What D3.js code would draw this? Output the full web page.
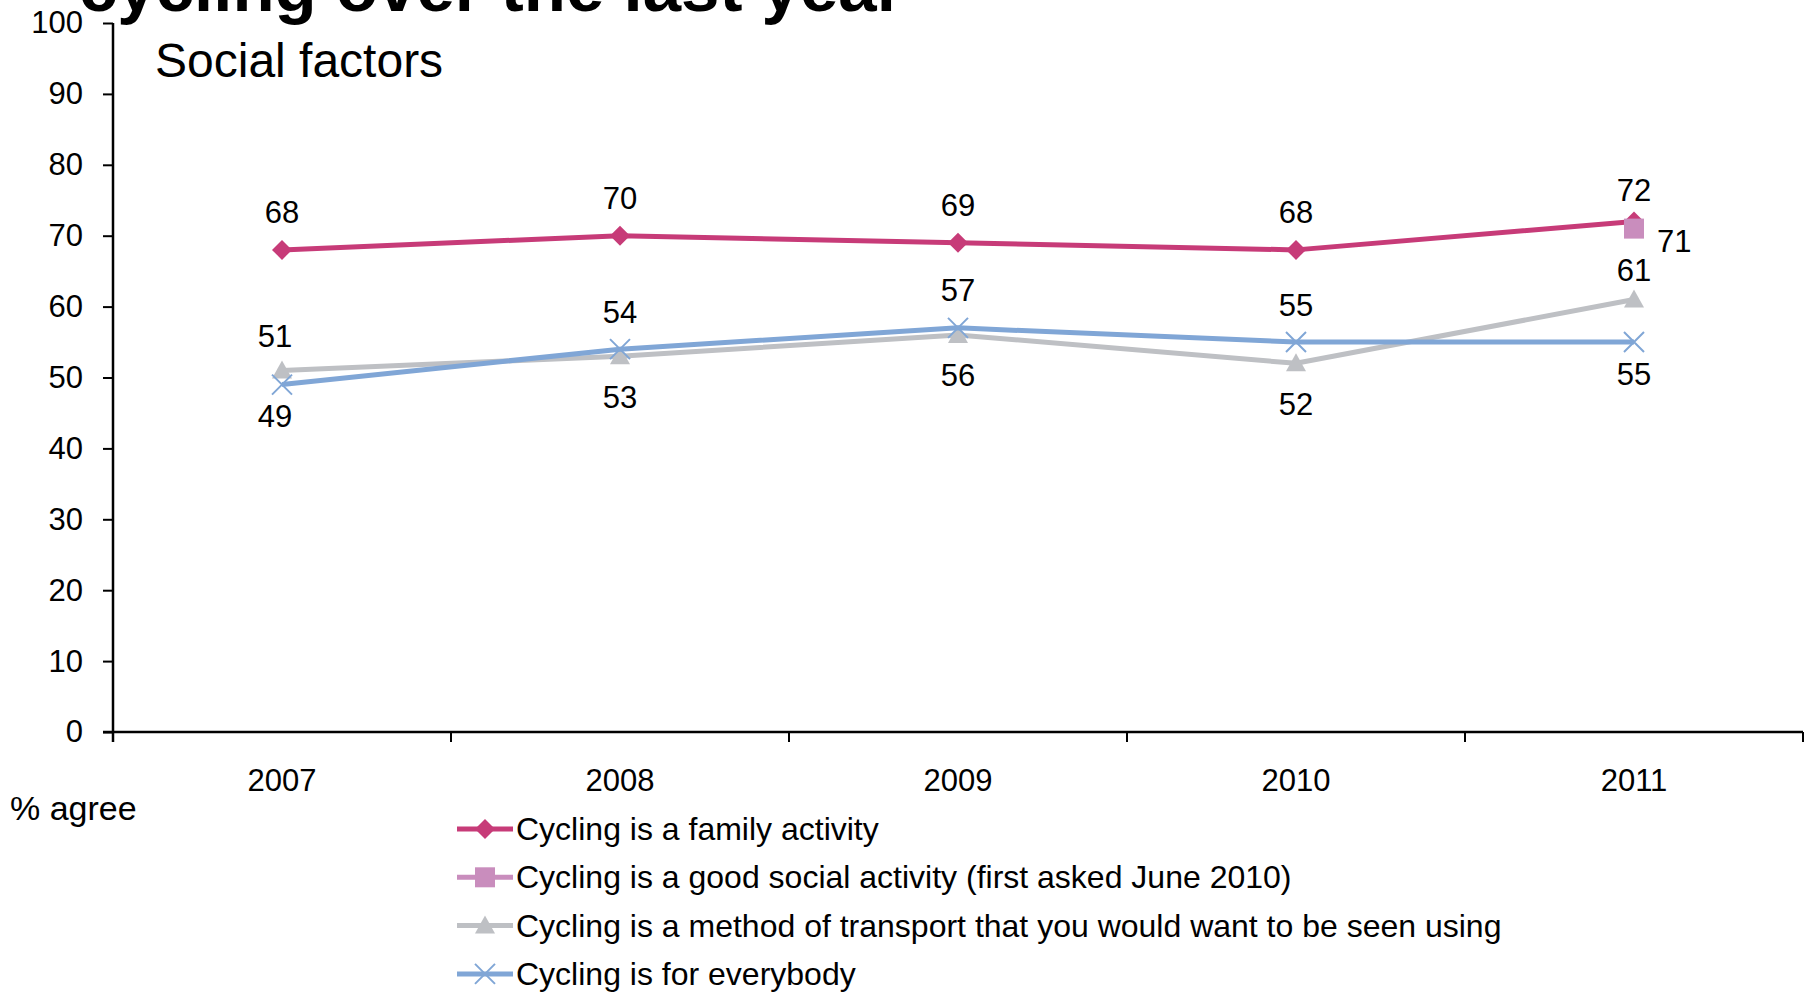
<!DOCTYPE html>
<html>
<head>
<meta charset="utf-8">
<script src="https://cdn.jsdelivr.net/npm/d3@7"></script>
<style>
  html, body { margin: 0; padding: 0; background: #ffffff; overflow: hidden; }
  svg { display: block; font-family: "Liberation Sans", Arial, sans-serif; }
</style>
</head>
<body>
<svg id="chart" width="1808" height="992"></svg>
<script>
// ---- data ----
const years = ["2007", "2008", "2009", "2010", "2011"];
const familyValues = [68, 70, 69, 68, 72];
const socialValues = [null, null, null, null, 71];
const transportValues = [51, 53, 56, 52, 61];
const everybodyValues = [49, 54, 57, 55, 55];
const yTickValues = [0, 10, 20, 30, 40, 50, 60, 70, 80, 90, 100];
const seriesNames = [
  "Cycling is a family activity",
  "Cycling is a good social activity (first asked June 2010)",
  "Cycling is a method of transport that you would want to be seen using",
  "Cycling is for everybody"
];
const titleText = "cycling over the last year";
const subtitleText = "Social factors";
const axisTitleText = "% agree";

// ---- styling ----
const colors = ["#c73b78", "#c98dbd", "#bec0c4", "#80a6d6"];
const shapes = ["diamond", "square", "triangle", "cross"];
// small manual label nudges (styling only): [seriesIndex, yearIndex, dx, dy]
const labelNudges = [[0, 4, 0, 6], [2, 4, 0, 8], [2, 0, -7, 3], [3, 0, -7, 0]];

const svg = d3.select("#chart");
const plotLeft = 113, plotRight = 1803, plotTop = 23, plotBottom = 732;

const x = d3.scaleBand().domain(years).range([plotLeft, plotRight]);
const y = d3.scaleLinear().domain([0, 100]).range([plotBottom, plotTop]);

// title (clipped at top)
svg.append("text").attr("x", 79).attr("y", 11)
  .attr("font-size", 69).attr("font-weight", "bold").attr("fill", "#000")
  .text(titleText);

// y axis
const yAxis = d3.axisLeft(y).tickValues(yTickValues).tickSize(10).tickPadding(20).tickSizeOuter(0);
const gy = svg.append("g").attr("transform", `translate(${plotLeft},0)`).call(yAxis);
gy.select(".domain").attr("stroke", "#000").attr("stroke-width", 2.5)
  .attr("d", `M0,${plotTop}V${plotBottom + 10}`);
gy.selectAll(".tick line").attr("stroke", "#000").attr("stroke-width", 2);
gy.selectAll(".tick text").attr("font-size", 31).attr("fill", "#000")
  .attr("font-family", "Liberation Sans, Arial, sans-serif");

// x axis
const xAxis = d3.axisBottom(x).tickSize(0).tickPadding(37);
const gx = svg.append("g").attr("transform", `translate(0,${plotBottom})`).call(xAxis);
gx.select(".domain").attr("stroke", "#000").attr("stroke-width", 2.5)
  .attr("d", `M${plotLeft - 10},0H${plotRight}`);
gx.selectAll(".tick text").attr("font-size", 31).attr("fill", "#000")
  .attr("font-family", "Liberation Sans, Arial, sans-serif");
// band boundary ticks
const boundaries = years.map(d => x(d)).concat([x(years[years.length - 1]) + x.bandwidth()]);
gx.selectAll(".bound").data(boundaries).enter().append("line")
  .attr("x1", d => d).attr("x2", d => d).attr("y1", 0).attr("y2", 10)
  .attr("stroke", "#000").attr("stroke-width", 2);

// subtitle
svg.append("text").attr("x", 155).attr("y", 60).attr("font-size", 48)
  .attr("dominant-baseline", "central").attr("fill", "#000").text(subtitleText);

// axis title
svg.append("text").attr("x", 10).attr("y", 808).attr("font-size", 34)
  .attr("dominant-baseline", "central").attr("fill", "#000").text(axisTitleText);

// markers
function drawMarker(g, shape, cx, cy, color, size) {
  const h = size / 2;
  if (shape === "diamond") {
    g.append("path").attr("d", `M${cx},${cy - h}L${cx + h},${cy}L${cx},${cy + h}L${cx - h},${cy}Z`).attr("fill", color);
  } else if (shape === "square") {
    g.append("rect").attr("x", cx - h).attr("y", cy - h).attr("width", size).attr("height", size).attr("fill", color);
  } else if (shape === "triangle") {
    g.append("path").attr("d", `M${cx},${cy - h}L${cx + h},${cy + h * 0.8}L${cx - h},${cy + h * 0.8}Z`).attr("fill", color);
  } else if (shape === "cross") {
    g.append("path").attr("d", `M${cx - h},${cy - h}L${cx + h},${cy + h}M${cx - h},${cy + h}L${cx + h},${cy - h}`)
      .attr("stroke", color).attr("stroke-width", 2).attr("fill", "none");
  }
}

const allSeries = [familyValues, socialValues, transportValues, everybodyValues];
const cxOf = d => x(d) + x.bandwidth() / 2;

const line = d3.line().defined(d => d.v != null).x(d => cxOf(d.year)).y(d => y(d.v));

allSeries.forEach((vals, si) => {
  const pts = years.map((yr, i) => ({ year: yr, v: vals[i] }));
  const g = svg.append("g");
  g.append("path").datum(pts).attr("d", line).attr("fill", "none")
    .attr("stroke", colors[si]).attr("stroke-width", 5).attr("stroke-linejoin", "round");
  pts.filter(p => p.v != null).forEach(p => drawMarker(g, shapes[si], cxOf(p.year), y(p.v), colors[si], 20));
});

// data labels
const labels = svg.append("g").attr("font-size", 31).attr("fill", "#000");
function nudge(si, yi) {
  const n = labelNudges.find(d => d[0] === si && d[1] === yi);
  return n ? [n[2], n[3]] : [0, 0];
}
function addLabel(si, yi, xp, yp, txt, anchor) {
  const [dx, dy] = nudge(si, yi);
  labels.append("text").attr("x", xp + dx).attr("y", yp + dy).attr("text-anchor", anchor || "middle")
    .attr("dominant-baseline", "central").text(txt);
}
years.forEach((yr, i) => {
  const px = cxOf(yr);
  addLabel(0, i, px, y(familyValues[i]) - 37, familyValues[i]);
  if (socialValues[i] != null) addLabel(1, i, px + 23, y(socialValues[i]) + 13, socialValues[i], "start");
  const tAbove = transportValues[i] >= everybodyValues[i];
  addLabel(2, i, px, y(transportValues[i]) + (tAbove ? -37 : 41), transportValues[i]);
  addLabel(3, i, px, y(everybodyValues[i]) + (tAbove ? 32 : -37), everybodyValues[i]);
});

// legend
const legend = svg.append("g");
seriesNames.forEach((name, i) => {
  const ly = 829 + i * 48.3;
  legend.append("line").attr("x1", 457).attr("x2", 513).attr("y1", ly).attr("y2", ly)
    .attr("stroke", colors[i]).attr("stroke-width", 5);
  drawMarker(legend, shapes[i], 485, ly, colors[i], 20);
  legend.append("text").attr("x", 516).attr("y", ly).attr("font-size", 32)
    .attr("dominant-baseline", "central").attr("fill", "#000").text(name);
});
</script>
</body>
</html>
